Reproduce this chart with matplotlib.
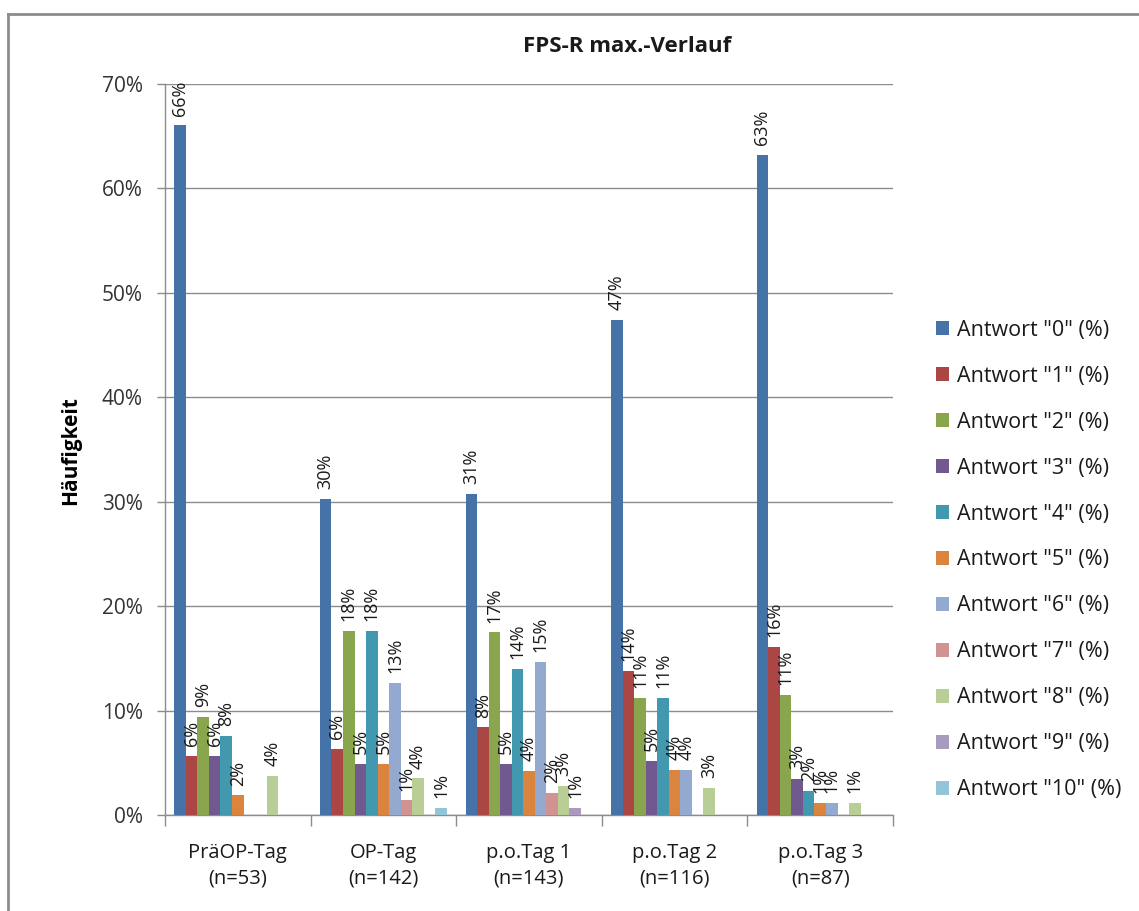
import matplotlib
matplotlib.use("Agg")
import matplotlib.pyplot as plt
import numpy as np
from matplotlib.lines import Line2D

plt.rcParams['font.family'] = ['Open Sans', 'DejaVu Sans']

# Categories (days) and answer series, values in percent
categories = ["PräOP-Tag\n(n=53)", "OP-Tag\n(n=142)", "p.o.Tag 1\n(n=143)",
              "p.o.Tag 2\n(n=116)", "p.o.Tag 3\n(n=87)"]
series_names = ['Antwort "0" (%)', 'Antwort "1" (%)', 'Antwort "2" (%)',
                'Antwort "3" (%)', 'Antwort "4" (%)', 'Antwort "5" (%)',
                'Antwort "6" (%)', 'Antwort "7" (%)', 'Antwort "8" (%)',
                'Antwort "9" (%)', 'Antwort "10" (%)']

antwort_0 = [66.04, 30.28, 30.77, 47.41, 63.22]
antwort_1 = [5.66, 6.34, 8.39, 13.79, 16.09]
antwort_2 = [9.43, 17.61, 17.48, 11.21, 11.49]
antwort_3 = [5.66, 4.93, 4.90, 5.17, 3.45]
antwort_4 = [7.55, 17.61, 13.99, 11.21, 2.30]
antwort_5 = [1.89, 4.93, 4.20, 4.31, 1.15]
antwort_6 = [0.0, 12.68, 14.69, 4.31, 1.15]
antwort_7 = [0.0, 1.41, 2.10, 0.0, 0.0]
antwort_8 = [3.77, 3.52, 2.80, 2.59, 1.15]
antwort_9 = [0.0, 0.0, 0.70, 0.0, 0.0]
antwort_10 = [0.0, 0.70, 0.0, 0.0, 0.0]

series_values = [antwort_0, antwort_1, antwort_2, antwort_3, antwort_4, antwort_5,
                 antwort_6, antwort_7, antwort_8, antwort_9, antwort_10]

colors = ["#4572A7", "#AA4643", "#89A54E", "#71588F", "#4198AF", "#DB843D",
          "#93A9CF", "#D19392", "#B9CD96", "#A99BBD", "#92C5D7"]

W, H = 1139, 911
fig = plt.figure(figsize=(W / 100, H / 100), dpi=100)
ax = fig.add_axes([165 / W, 1 - 815 / H, (893 - 165) / W, (815 - 84) / H])

x = np.arange(len(categories))
n_series = len(series_values)
cluster = 0.872
bw = cluster / n_series

for i, (vals, name, col) in enumerate(zip(series_values, series_names, colors)):
    pos = x + (i - (n_series - 1) / 2) * bw
    bars = ax.bar(pos, vals, width=bw, color=col, label=name, zorder=3, linewidth=0)
    for b, v in zip(bars, vals):
        if v <= 0:
            continue
        ax.annotate(f"{v:.0f}%", xy=(b.get_x() + b.get_width() / 2, v),
                    xytext=(0, 7), textcoords="offset points",
                    rotation=90, ha="center", va="bottom",
                    fontsize=13, color="#1a1a1a", zorder=4)

ax.set_xlim(-0.5, len(categories) - 0.5)
ax.set_ylim(0, 70)
ax.set_yticks(np.arange(0, 71, 10))
ax.set_yticklabels([f"{t}%" for t in range(0, 71, 10)], fontsize=15, color="#333333")
ax.yaxis.grid(True, color="#8c8c8c", linewidth=1, zorder=0)
ax.set_axisbelow(True)

# Category labels centred, ticks at the category boundaries
ax.set_xticks(x)
ax.set_xticklabels(categories, fontsize=14.5, color="#1a1a1a", linespacing=1.4)
ax.tick_params(axis="x", which="major", length=0, pad=20)
ax.set_xticks(np.arange(-0.5, len(categories), 1), minor=True)
ax.tick_params(axis="x", which="minor", length=8, width=1, color="#8c8c8c", direction="out")
ax.tick_params(axis="y", length=6, width=1, color="#8c8c8c", direction="out", pad=10)

for s in ["top", "right"]:
    ax.spines[s].set_visible(False)
for s in ["left", "bottom"]:
    ax.spines[s].set_color("#8c8c8c")
    ax.spines[s].set_linewidth(1)

ax.set_ylabel("Häufigkeit", fontsize=15, fontweight="bold", color="#000000")
ax.yaxis.set_label_coords((81 - 165) / (893 - 165), (815 - 451) / (815 - 84))

fig.text(627 / W, 1 - 46 / H, "FPS-R max.-Verlauf", ha="center", va="center",
         fontsize=16, fontweight="bold", color="#1a1a1a")

leg = fig.legend(loc="center left", bbox_to_anchor=(936 / W, 1 - 560 / H),
                 frameon=False, fontsize=15.5, handlelength=0.62, handleheight=0.62,
                 handletextpad=0.35, labelspacing=1.16, borderpad=0, borderaxespad=0)
for t in leg.get_texts():
    t.set_color("#1a1a1a")

# Chart border
fig.add_artist(Line2D([8 / W, 8 / W], [0, 1 - 14 / H], transform=fig.transFigure,
                      color="#8c8c8c", linewidth=2))
fig.add_artist(Line2D([8 / W, 1], [1 - 14 / H, 1 - 14 / H], transform=fig.transFigure,
                      color="#8c8c8c", linewidth=2))

fig.savefig("out.png", dpi=100, facecolor="white")
